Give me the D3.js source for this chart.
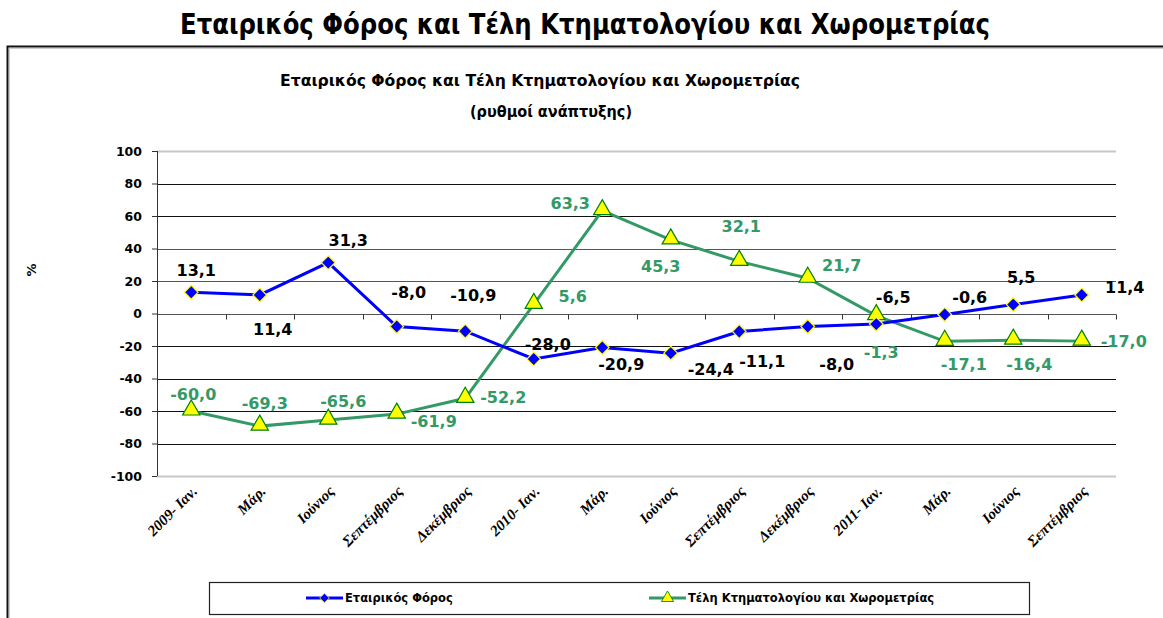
<!DOCTYPE html>
<meta charset="utf-8">
<style>
    body {
        margin: 0;
        background: #fff;
    }
    .tick line {
        stroke: #333;
    }
    .domain {
        stroke: #333;
    }
</style>

<body>
    <script src="https://cdn.jsdelivr.net/npm/d3@7"></script>
    <script>
        var width = 1163
        var height = 618

        // data
        var categories = ['2009- Ιαν.', 'Μάρ.', 'Ιούνιος', 'Σεπτέμβριος', 'Δεκέμβριος',
            '2010- Ιαν.', 'Μάρ.', 'Ιούνιος', 'Σεπτέμβριος', 'Δεκέμβριος',
            '2011- Ιαν.', 'Μάρ.', 'Ιούνιος', 'Σεπτέμβριος']
        var corporateTax = [13.1, 11.4, 31.3, -8.0, -10.9, -28.0, -20.9, -24.4, -11.1, -8.0, -6.5, -0.6, 5.5, 11.4]
        var cadastreFees = [-60.0, -69.3, -65.6, -61.9, -52.2, 5.6, 63.3, 45.3, 32.1, 21.7, -1.3, -17.1, -16.4, -17.0]
        var yTicks = [-100, -80, -60, -40, -20, 0, 20, 40, 60, 80, 100]
        var seriesNames = ['Εταιρικός Φόρος', 'Τέλη Κτηματολογίου και Χωρομετρίας']

        // where each value label sits relative to its point (Excel placement)
        var blueLabelOffset = [[5, -22], [13, 34], [20, -22], [12, -34], [8, -36], [14, -15], [19, 17],
            [40, 16], [23, 30], [29, 38], [17, -27], [25, -17], [8, -27], [43, -8]]
        var greenLabelOffset = [[2, -17], [5, -23], [15, -19], [37, 7], [38, -1], [39, -8], [-32, -7],
            [-10, 26], [2, -35], [34, -13], [5, 37], [19, 23], [16, 24], [42, 0]]

        var blue = '#0000ff'
        var green = '#339966'
        var labelFont = '"DejaVu Sans", sans-serif'
        var titleFont = '"DejaVu Sans Condensed", "DejaVu Sans", sans-serif'

        var plot = { left: 157, right: 1116, top: 151, bottom: 476 }

        var svg = d3.select('body')
            .append('svg')
            .attr('width', width)
            .attr('height', height)

        var x = d3.scaleBand()
            .domain(d3.range(categories.length))
            .range([plot.left, plot.right])

        var y = d3.scaleLinear()
            .domain([-100, 100])
            .range([plot.bottom, plot.top])

        var cx = function (i) { return x(i) + x.bandwidth() / 2 }
        var fmt = function (v) { return d3.format('.1f')(v).replace('−', '-').replace('.', ',') }

        // page title
        svg.append('text')
            .attr('x', 585)
            .attr('y', 34)
            .attr('text-anchor', 'middle')
            .attr('textLength', 810)
            .attr('lengthAdjust', 'spacingAndGlyphs')
            .style('font-family', titleFont)
            .style('font-weight', 'bold')
            .style('font-size', '28px')
            .text('Εταιρικός Φόρος και Τέλη Κτηματολογίου και Χωρομετρίας')

        // chart frame (open on right and bottom)
        svg.append('path')
            .attr('d', 'M7.5,' + height + 'V46.5H' + width)
            .attr('fill', 'none')
            .attr('stroke', '#111')
            .attr('stroke-width', 2)
        svg.append('path')
            .attr('d', 'M9.5,' + height + 'V48.5H' + width)
            .attr('fill', 'none')
            .attr('stroke', '#ccc')
            .attr('stroke-width', 1)

        // chart titles
        svg.append('text')
            .attr('x', 540)
            .attr('y', 86)
            .attr('text-anchor', 'middle')
            .attr('textLength', 520)
            .attr('lengthAdjust', 'spacingAndGlyphs')
            .style('font-family', titleFont)
            .style('font-weight', 'bold')
            .style('font-size', '16px')
            .text('Εταιρικός Φόρος και Τέλη Κτηματολογίου και Χωρομετρίας')
        svg.append('text')
            .attr('x', 551)
            .attr('y', 117)
            .attr('text-anchor', 'middle')
            .attr('textLength', 162)
            .attr('lengthAdjust', 'spacingAndGlyphs')
            .style('font-family', titleFont)
            .style('font-weight', 'bold')
            .style('font-size', '16px')
            .text('(ρυθμοί ανάπτυξης)')

        // gridlines
        svg.append('g')
            .selectAll('line')
            .data(yTicks)
            .enter().append('line')
            .attr('x1', plot.left)
            .attr('x2', plot.right)
            .attr('y1', function (d) { return Math.round(y(d)) + 0.5 })
            .attr('y2', function (d) { return Math.round(y(d)) + 0.5 })
            .attr('stroke', function (d) { return Math.abs(d) === 100 ? '#c8c8c8' : (d >= 0 && d <= 40 ? '#555' : '#111') })
            .attr('stroke-width', function (d) { return Math.abs(d) === 100 ? 2 : 1 })

        // y axis
        var yAxis = svg.append('g')
            .attr('transform', 'translate(' + plot.left + ',0)')
            .call(d3.axisLeft(y).tickValues(yTicks).tickSize(5).tickPadding(10)
                .tickFormat(function (d) { return String(d) }))
        yAxis.select('.domain').attr('d', 'M0.5,' + plot.top + 'V' + plot.bottom)
        yAxis.selectAll('text')
            .style('font-family', labelFont)
            .style('font-weight', 'bold')
            .style('font-size', '12.5px')
            .style('fill', '#000')

        svg.append('text')
            .attr('transform', 'translate(36,270) rotate(-90)')
            .attr('text-anchor', 'middle')
            .style('font-family', labelFont)
            .style('font-weight', 'bold')
            .style('font-size', '13px')
            .text('%')

        // x axis on zero line with category ticks
        var zeroY = Math.round(y(0)) + 0.5
        svg.append('g')
            .selectAll('line')
            .data(d3.range(categories.length + 1))
            .enter().append('line')
            .attr('x1', function (i) { return Math.round(plot.left + i * x.step()) + 0.5 })
            .attr('x2', function (i) { return Math.round(plot.left + i * x.step()) + 0.5 })
            .attr('y1', zeroY)
            .attr('y2', zeroY + 5)
            .attr('stroke', '#333')

        svg.append('g')
            .selectAll('text')
            .data(categories)
            .enter().append('text')
            .attr('transform', function (d, i) { return 'translate(' + (cx(i) + 7) + ',' + 492 + ') rotate(-45)' })
            .attr('text-anchor', 'end')
            .style('font-family', '"Liberation Serif", serif')
            .style('font-style', 'italic')
            .style('font-weight', 'bold')
            .style('font-size', '15px')
            .text(function (d) { return d })

        // lines
        var line = d3.line()
            .x(function (d, i) { return cx(i) })
            .y(function (d) { return y(d) })

        svg.append('path')
            .datum(cadastreFees)
            .attr('d', line)
            .attr('fill', 'none')
            .attr('stroke', green)
            .attr('stroke-width', 3)

        svg.append('path')
            .datum(corporateTax)
            .attr('d', line)
            .attr('fill', 'none')
            .attr('stroke', blue)
            .attr('stroke-width', 3)

        var diamond = d3.symbol().type(d3.symbolDiamond2).size(120)
        var triangle = d3.symbol().type(d3.symbolTriangle).size(130)

        svg.append('g')
            .selectAll('path')
            .data(cadastreFees)
            .enter().append('path')
            .attr('transform', function (d, i) { return 'translate(' + cx(i) + ',' + (y(d) - 1) + ')' })
            .attr('d', triangle)
            .attr('fill', '#ffff00')
            .attr('stroke', '#008000')
            .attr('stroke-width', 1.2)

        svg.append('g')
            .selectAll('path')
            .data(corporateTax)
            .enter().append('path')
            .attr('transform', function (d, i) { return 'translate(' + cx(i) + ',' + y(d) + ')' })
            .attr('d', diamond)
            .attr('fill', blue)
            .attr('stroke', '#ffff00')
            .attr('stroke-width', 1.2)

        // value labels
        function drawLabels(values, offsets, color) {
            svg.append('g')
                .selectAll('text')
                .data(values)
                .enter().append('text')
                .attr('x', function (d, i) { return cx(i) + offsets[i][0] })
                .attr('y', function (d, i) { return y(d) + offsets[i][1] })
                .attr('dy', '0.36em')
                .attr('text-anchor', 'middle')
                .style('font-family', labelFont)
                .style('font-weight', 'bold')
                .style('font-size', '16px')
                .style('fill', color)
                .text(function (d) { return fmt(d) })
        }
        drawLabels(corporateTax, blueLabelOffset, '#000')
        drawLabels(cadastreFees, greenLabelOffset, green)

        // legend
        var legend = svg.append('g')
        legend.append('rect')
            .attr('x', 209.5)
            .attr('y', 582.5)
            .attr('width', 820)
            .attr('height', 32)
            .attr('fill', '#fff')
            .attr('stroke', '#222')
            .attr('stroke-width', 1.2)

        var legendItems = [
            { name: seriesNames[0], x: 306, color: blue, shape: diamond, fill: blue, stroke: '#ffff00' },
            { name: seriesNames[1], x: 649, color: green, shape: triangle, fill: '#ffff00', stroke: '#008000' }
        ]
        var li = legend.selectAll('.item')
            .data(legendItems)
            .enter().append('g')
            .attr('class', 'item')
            .attr('transform', function (d) { return 'translate(' + d.x + ',598)' })
        li.append('line')
            .attr('x1', 0)
            .attr('x2', 37)
            .attr('stroke', function (d) { return d.color })
            .attr('stroke-width', 3)
        li.append('path')
            .attr('transform', 'translate(18.5,0) scale(0.7)')
            .attr('d', function (d) { return d.shape() })
            .attr('fill', function (d) { return d.fill })
            .attr('stroke', function (d) { return d.stroke })
            .attr('stroke-width', 1.2)
        li.append('text')
            .attr('x', 39)
            .attr('dy', '0.36em')
            .style('font-family', labelFont)
            .style('font-weight', 'bold')
            .style('font-size', '11.5px')
            .text(function (d) { return d.name })
    </script>
</body>
